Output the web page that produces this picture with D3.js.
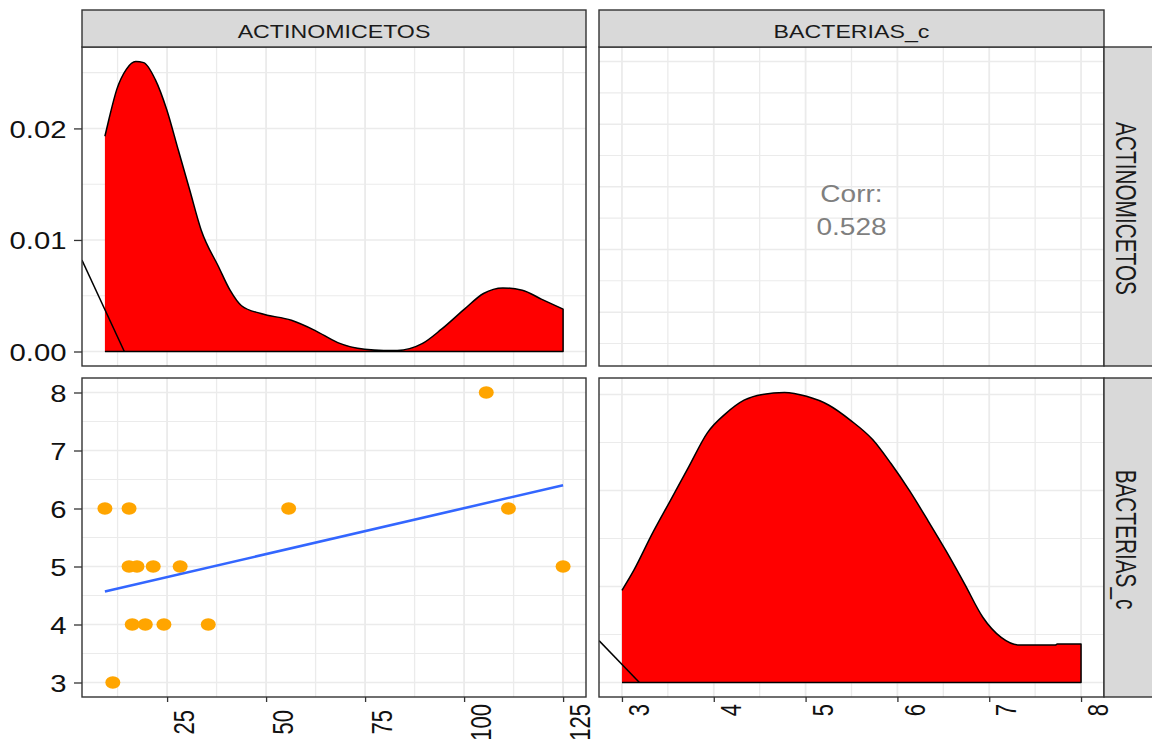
<!DOCTYPE html>
<html>
<head>
<meta charset="utf-8">
<script src="https://cdn.jsdelivr.net/npm/d3@7"></script>
<style>
  body { margin: 0; background: #fff; }
  svg { display: block; font-family: "Liberation Sans", Arial, sans-serif; }
</style>
</head>
<body>
<svg id="chart" width="1152" height="742"></svg>
<script>
// ---- data ----
const varNames = ['ACTINOMICETOS', 'BACTERIAS_c'];

const actinomicetos = [9.3, 11.3, 15.4, 15.4, 17.4, 21.5, 28.3, 16.2, 19.5, 24.2, 35.4, 55.7, 105.6, 111.2, 125];
const bacterias     = [6,   3,    6,    5,    5,    5,    5,    4,    4,    4,    4,    6,    8,     6,     5];

// kernel density of ACTINOMICETOS (diagonal, top-left)
const actDensX = [9.3, 10.3, 12.3, 14.7, 17.1, 19.1, 22.0, 24.9, 27.8, 30.7, 33.6, 38.0, 40.9, 43.8, 48.7,
                  56.4, 62.3, 68.1, 74.9, 79.7, 83.1, 89.4, 94.3, 100.1, 104.9, 109.8, 114.7, 119.5, 125.0];
const actDensY = [0.0193, 0.0208, 0.0235, 0.0253, 0.0260, 0.0259, 0.0244, 0.0217, 0.0181, 0.0145, 0.0109,
                  0.0076, 0.0055, 0.0041, 0.0034, 0.0028, 0.0019, 0.0008, 0.0002, 0.0001, 0.0001, 0.0007,
                  0.0020, 0.0038, 0.0052, 0.0057, 0.0055, 0.0047, 0.0038];

// kernel density of BACTERIAS_c (diagonal, bottom-right)
const bacDensX = [3.0, 3.13, 3.33, 3.53, 3.73, 3.93, 4.13, 4.33, 4.53, 4.77, 5.01, 5.25, 5.49, 5.73, 5.93,
                  6.13, 6.33, 6.53, 6.73, 6.93, 7.13, 7.33, 7.72, 7.74, 8.0];
const bacDensY = [0.096, 0.117, 0.155, 0.190, 0.225, 0.260, 0.280, 0.294, 0.300, 0.302, 0.298, 0.289, 0.273,
                  0.253, 0.228, 0.200, 0.169, 0.137, 0.103, 0.068, 0.047, 0.039, 0.039, 0.040, 0.040];

// stray black segments drawn in the density panels
const actDiagX = [3.5, 14.2], actDiagY = [0.0082, 0];
const bacDiagX = [2.75, 3.19], bacDiagY = [0.0436, 0];

// breaks / labels
const actBreaks = [25, 50, 75, 100, 125];
const bacBreaks = [3, 4, 5, 6, 7, 8];
const actDensBreaks = [0, 0.01, 0.02];
const bacDensBreaks = [0, 0.1, 0.2, 0.3];

const corrLabel = 'Corr:';
const corrValue = '0.528';

// ---- layout ----
const colX = [[82, 586], [599, 1104]];
const rowY = [[47, 366], [378, 697]];
const stripTop = 10;
const SX = 1.22;      // glyphs in the reference are stretched sideways
const SV = 1.38;      // same stretch seen on rotated text

const svg = d3.select('#chart');
const defs = svg.append('defs');

const pad = (ext) => { const r = ext[1] - ext[0]; return [ext[0] - 0.05 * r, ext[1] + 0.05 * r]; };

const xAct = d3.scaleLinear().domain(pad(d3.extent(actinomicetos))).range(colX[0]);
const xBac = d3.scaleLinear().domain(pad(d3.extent(bacterias))).range(colX[1]);
const yAct = d3.scaleLinear().domain(pad(d3.extent(actinomicetos))).range([rowY[0][1], rowY[0][0]]);
const yBac = d3.scaleLinear().domain(pad(d3.extent(bacterias))).range([rowY[1][1], rowY[1][0]]);
const yActDens = d3.scaleLinear().domain(pad([0, d3.max(actDensY)])).range([rowY[0][1], rowY[0][0]]);
const yBacDens = d3.scaleLinear().domain(pad([0, d3.max(bacDensY)])).range([rowY[1][1], rowY[1][0]]);

function minorBreaks(breaks, domain) {
    const step = breaks[1] - breaks[0];
    const out = [breaks[0] - step / 2];
    breaks.forEach(b => out.push(b + step / 2));
    return out.filter(v => v >= domain[0] && v <= domain[1]);
}

let clipId = 0;
function panel(xs, xb, ys, yb) {
    const [x0, x1] = xs.range();
    const [y1, y0] = ys.range();
    const id = 'clip' + (clipId++);
    defs.append('clipPath').attr('id', id)
        .append('rect').attr('x', x0).attr('y', y0).attr('width', x1 - x0).attr('height', y1 - y0);

    const g = svg.append('g').attr('clip-path', `url(#${id})`);
    g.append('rect').attr('x', x0).attr('y', y0).attr('width', x1 - x0).attr('height', y1 - y0).attr('fill', '#fff');

    const grid = g.append('g').attr('stroke', '#ebebeb');
    const vlines = (vals, w) => grid.selectAll(null).data(vals).enter().append('line')
        .attr('x1', d => xs(d)).attr('x2', d => xs(d)).attr('y1', y0).attr('y2', y1).attr('stroke-width', w);
    const hlines = (vals, w) => grid.selectAll(null).data(vals).enter().append('line')
        .attr('y1', d => ys(d)).attr('y2', d => ys(d)).attr('x1', x0).attr('x2', x1).attr('stroke-width', w);
    vlines(minorBreaks(xb, xs.domain()), 1.3);
    hlines(minorBreaks(yb, ys.domain()), 1.1);
    vlines(xb, 1.8);
    hlines(yb, 1.5);
    return g;
}

function border(xs, ys) {
    const [x0, x1] = xs.range();
    const [y1, y0] = ys.range();
    svg.append('rect').attr('x', x0).attr('y', y0).attr('width', x1 - x0).attr('height', y1 - y0)
        .attr('fill', 'none').attr('stroke', '#333333').attr('stroke-width', 1.4);
}

function density(g, xs, ys, dx, dy) {
    const pts = dx.map((x, i) => [x, dy[i]]);
    g.append('path')
        .datum(pts)
        .attr('fill', '#ff0000')
        .attr('d', d3.area().curve(d3.curveMonotoneX).x(d => xs(d[0])).y0(ys(0)).y1(d => ys(d[1])));
    // upper curve, then right side and baseline (left side left open as in the reference)
    const top = d3.line().curve(d3.curveMonotoneX).x(d => xs(d[0])).y(d => ys(d[1]))(pts);
    const last = dx[dx.length - 1];
    g.append('path')
        .attr('fill', 'none')
        .attr('stroke', '#000')
        .attr('stroke-width', 1.5)
        .attr('stroke-linejoin', 'round')
        .attr('d', `${top}L${xs(last)},${ys(0)}L${xs(dx[0])},${ys(0)}`);
}

function diag(g, xs, ys, dx, dy) {
    g.append('line')
        .attr('x1', xs(dx[0])).attr('y1', ys(dy[0]))
        .attr('x2', xs(dx[1])).attr('y2', ys(dy[1]))
        .attr('stroke', '#000').attr('stroke-width', 1.5);
}

// ---- top-left: density of ACTINOMICETOS ----
const p11 = panel(xAct, actBreaks, yActDens, actDensBreaks);
density(p11, xAct, yActDens, actDensX, actDensY);
diag(p11, xAct, yActDens, actDiagX, actDiagY);
border(xAct, yActDens);

// ---- top-right: correlation ----
panel(xBac, bacBreaks, yAct, actBreaks);
const cx = (colX[1][0] + colX[1][1]) / 2;
const cy = (rowY[0][0] + rowY[0][1]) / 2;
svg.append('g').attr('fill', '#7f7f7f').attr('font-size', 23).attr('text-anchor', 'middle')
    .selectAll('text').data([[corrLabel, cy - 5], [corrValue, cy + 28.5]]).enter().append('text')
    .attr('transform', d => `translate(${cx},${d[1]}) scale(${SX},1)`)
    .text(d => d[0]);
border(xBac, yAct);

// ---- bottom-left: scatter ----
const p21 = panel(xAct, actBreaks, yBac, bacBreaks);
const pts = actinomicetos.map((x, i) => ({ x, y: bacterias[i] }));
const mx = d3.mean(actinomicetos), my = d3.mean(bacterias);
const slope = d3.sum(pts, p => (p.x - mx) * (p.y - my)) / d3.sum(pts, p => (p.x - mx) ** 2);
const intercept = my - slope * mx;
p21.append('g').selectAll('ellipse').data(pts).enter().append('ellipse')
    .attr('cx', d => xAct(d.x)).attr('cy', d => yBac(d.y))
    .attr('rx', 7.5).attr('ry', 6.2)
    .attr('fill', '#FFA500');
const xr = d3.extent(actinomicetos);
p21.append('line')
    .attr('x1', xAct(xr[0])).attr('y1', yBac(intercept + slope * xr[0]))
    .attr('x2', xAct(xr[1])).attr('y2', yBac(intercept + slope * xr[1]))
    .attr('stroke', '#3366FF').attr('stroke-width', 2.6);
border(xAct, yBac);

// ---- bottom-right: density of BACTERIAS_c ----
const p22 = panel(xBac, bacBreaks, yBacDens, bacDensBreaks);
density(p22, xBac, yBacDens, bacDensX, bacDensY);
diag(p22, xBac, yBacDens, bacDiagX, bacDiagY);
border(xBac, yBacDens);

// ---- axes ----
function leftAxis(ys, breaks, fmt) {
    const gap = 15.5;
    const ax = svg.append('g').attr('transform', `translate(${colX[0][0]},0)`)
        .call(d3.axisLeft(ys).tickValues(breaks).tickSize(8).tickFormat(fmt));
    ax.select('.domain').remove();
    ax.selectAll('.tick line').attr('stroke', '#333333').attr('stroke-width', 1.3);
    ax.selectAll('.tick text')
        .attr('fill', '#111').attr('font-size', 24).attr('font-family', null)
        .attr('x', -gap / SX).attr('dy', '0.36em')
        .attr('transform', `scale(${SX},1)`);
}
leftAxis(yActDens, actDensBreaks, d3.format('.2f'));
leftAxis(yBac, bacBreaks, d3.format('d'));

function bottomAxis(xs, breaks) {
    const fs = 22;
    const ax = svg.append('g').attr('transform', `translate(0,${rowY[1][1]})`)
        .call(d3.axisBottom(xs).tickValues(breaks).tickSize(5).tickFormat(d3.format('d')));
    ax.select('.domain').remove();
    ax.selectAll('.tick line').attr('stroke', '#333333').attr('stroke-width', 1.3);
    const texts = ax.selectAll('.tick text')
        .attr('fill', '#111').attr('font-size', fs).attr('font-family', null)
        .attr('dy', null).attr('text-anchor', 'middle');
    let maxLen = 0;
    texts.each(function () { maxLen = Math.max(maxLen, this.getComputedTextLength()); });
    const mid = 7 + maxLen / 2;
    texts.attr('x', 0).attr('y', 5 / SV + 0.716 * fs)
        .attr('transform', `translate(0,${mid}) rotate(-90) scale(1,${SV})`);
}
bottomAxis(xAct, actBreaks);
bottomAxis(xBac, bacBreaks);

// ---- strips ----
const stripFill = '#d9d9d9', stripLine = '#333333';
colX.forEach((c, i) => {
    svg.append('rect').attr('x', c[0]).attr('y', stripTop).attr('width', c[1] - c[0]).attr('height', rowY[0][0] - stripTop)
        .attr('fill', stripFill).attr('stroke', stripLine).attr('stroke-width', 1.4);
    svg.append('text')
        .attr('transform', `translate(${(c[0] + c[1]) / 2},38) scale(${SX},1)`)
        .attr('text-anchor', 'middle').attr('font-size', 19).attr('fill', '#1a1a1a')
        .text(varNames[i]);
});
rowY.forEach((r, i) => {
    svg.append('rect').attr('x', colX[1][1]).attr('y', r[0]).attr('width', 70).attr('height', r[1] - r[0])
        .attr('fill', stripFill).attr('stroke', stripLine).attr('stroke-width', 1.4);
    svg.append('text')
        .attr('transform', `translate(1116,${(r[0] + r[1]) / 2 + 2}) rotate(90) scale(1,${SV})`)
        .attr('text-anchor', 'middle').attr('font-size', 20.8).attr('fill', '#1a1a1a')
        .text(varNames[i]);
});
</script>
</body>
</html>
